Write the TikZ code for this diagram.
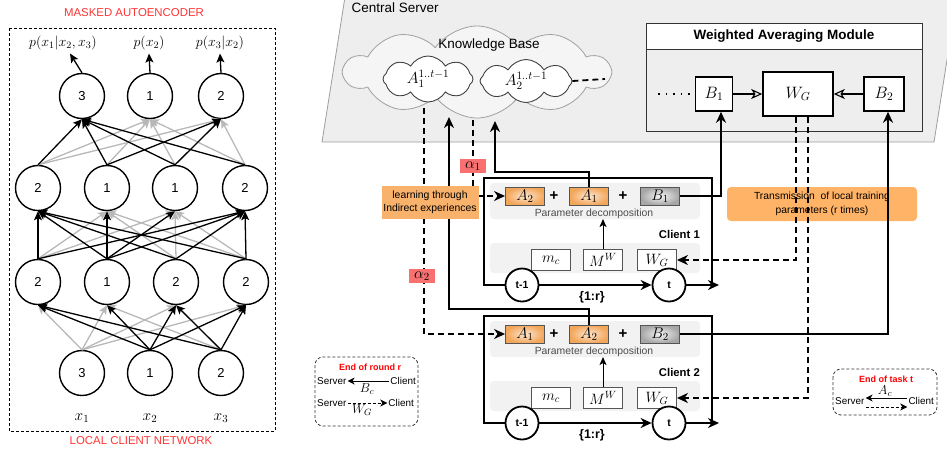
\RequirePackage{fix-cm}
\documentclass[tikz,border=0pt]{standalone}
\usepackage{fontspec}
\setmainfont{Liberation Sans}
\usetikzlibrary{arrows.meta,shapes.symbols,positioning}

\newcommand{\fsz}[1]{\fontsize{#1}{#1}\selectfont}

\definecolor{panelgray}{HTML}{EEEEEE}
\definecolor{paneledge}{HTML}{9E9E9E}
\definecolor{cloudfill}{HTML}{F5F5F5}
\definecolor{cloudedge}{HTML}{A0A0A0}
\definecolor{linkgray}{HTML}{B8B8B8}
\definecolor{aorange}{HTML}{F2A65A}
\definecolor{alight}{HTML}{FDE6CF}
\definecolor{bdark}{HTML}{A6A6A6}
\definecolor{blight}{HTML}{F4F4F4}
\definecolor{boxedge}{HTML}{555555}
\definecolor{subfill}{HTML}{F2F2F2}
\definecolor{learnfill}{HTML}{F8B26C}
\definecolor{transfill}{HTML}{FFB366}
\definecolor{alphafill}{HTML}{F87070}
\definecolor{titlered}{HTML}{FF3333}

\tikzset{
  neuron/.style={circle, draw, fill=white, line width=1.4pt, minimum size=45pt, inner sep=0pt, font=\fsz{13}},
  link/.style={line width=1.3pt, -{Stealth[length=9pt, width=8pt, inset=2pt]}},
  masked/.style={link, color=linkgray},
  flow/.style={line width=1.8pt, -{Stealth[length=11pt, width=10pt, inset=3.5pt]}},
  dflow/.style={flow, dash pattern=on 6pt off 4pt},
  thinflow/.style={line width=0.9pt, -{Stealth[length=8pt, width=7pt, inset=2pt]}},
  openflow/.style={line width=1.8pt, -{Stealth[open, length=11pt, width=10pt, inset=3pt, line width=1.1pt]}},
  frame/.style={line width=1.8pt},
  tnode/.style={circle, draw, fill=white, line width=1.8pt, minimum size=33pt, inner sep=0pt, font=\bfseries\fsz{10.5}},
  abox/.style={draw=boxedge, line width=0.9pt, inner color=alight, outer color=aorange, minimum width=39pt, minimum height=18pt, inner sep=0pt, font=\fsz{15.5}},
  bbox/.style={abox, inner color=blight, outer color=bdark},
  lbox/.style={draw=boxedge, line width=0.9pt, fill=white, minimum width=39pt, minimum height=21pt, inner sep=0pt, font=\fsz{15}},
  sbox/.style={draw, line width=1.6pt, fill=white, inner sep=0pt, font=\fsz{16.5}},
  plus/.style={font=\bfseries\fsz{15}, inner sep=0pt},
  subpanel/.style={fill=subfill, rounded corners=4pt},
  pdtext/.style={font=\fsz{10.4}, text=black!70, inner sep=0pt},
  smallcloud/.style={cloud, cloud puffs=8, cloud puff arc=120, cloud ignores aspect, draw=black!75, fill=white, line width=0.9pt, inner sep=0pt, font=\fsz{16}},
  alphabox/.style={fill=alphafill, minimum width=26pt, minimum height=14pt, inner sep=0.5pt, font=\fsz{15.5}},
  learnbox/.style={fill=learnfill, minimum width=97pt, minimum height=33pt, inner sep=1pt, align=center, font=\fontsize{10.4}{13}\selectfont},
  transbox/.style={fill=transfill, rounded corners=4pt, minimum width=190pt, minimum height=34pt, inner sep=1pt, align=center, font=\fontsize{10.3}{14}\selectfont},
  legbox/.style={draw=black!80, line width=0.8pt, dash pattern=on 3pt off 2pt, rounded corners=8pt},
  legtitle/.style={font=\bfseries\fsz{9}, text=red, inner sep=1pt},
  legtext/.style={font=\fsz{9.9}, inner sep=1pt},
  legarrow/.style={line width=0.9pt, -{Stealth[length=7pt, width=7pt, inset=2pt]}}
}

\begin{document}
\begin{tikzpicture}[x=1pt, y=-1pt]
\useasboundingbox (0,0) rectangle (947,448);

% Masked autoencoder of one client
\node[font=\fsz{11.4}, text=titlered] (maetitle) at (134,13) {MASKED AUTOENCODER};
\draw[line width=0.8pt, dash pattern=on 3pt off 2pt] (9,28) rectangle (275,431);
\node[font=\fsz{11.4}, text=titlered] (lcntitle) at (141,441) {LOCAL CLIENT NETWORK};

\foreach \x/\lab [count=\i] in {82/3,150/1,221/2}
  \node[neuron] (out\i) at (\x,96) {\lab};
\foreach \x/\lab [count=\i] in {38/2,107/1,175/1,245/2}
  \node[neuron] (hb\i) at (\x,188) {\lab};
\foreach \x/\lab [count=\i] in {38/2,107/1,176/2,246/2}
  \node[neuron] (ha\i) at (\x,282) {\lab};
\foreach \x/\lab [count=\i] in {82/3,150/1,221/2}
  \node[neuron] (in\i) at (\x,373) {\lab};

\node[font=\fsz{14}] (p1) at (63,43) {$p(x_1|x_2,x_3)$};
\node[font=\fsz{14}] (p2) at (149,43) {$p(x_2)$};
\node[font=\fsz{14}] (p3) at (220,43) {$p(x_3|x_2)$};
\draw[link] (out1.north) -- ([xshift=7pt]p1.south);
\draw[link] (out2.north) -- (p2.south);
\draw[link] (out3.north) -- (p3.south);
\foreach \i in {1,2,3}
  \node[font=\fsz{15.5}, below=14pt of in\i] (xl\i) {$x_\i$};

% masked links (gray) first
\foreach \j/\lsrc in {1/3,2/1,3/2}
  \foreach \i/\ldst in {1/2,2/1,3/2,4/2}
    {\ifnum\lsrc>\ldst\relax \draw[masked] (in\j.north) -- (ha\i.south);\fi}
\foreach \j/\lsrc in {1/2,2/1,3/2,4/2}
  \foreach \i/\ldst in {1/2,2/1,3/1,4/2}
    {\ifnum\lsrc>\ldst\relax \draw[masked] (ha\j.north) -- (hb\i.south);\fi}
\foreach \j/\lsrc in {1/2,2/1,3/1,4/2}
  \foreach \i/\ldst in {1/3,2/1,3/2}
    {\ifnum\lsrc<\ldst\relax\else \draw[masked] (hb\j.north) -- (out\i.south);\fi}
% allowed links (black)
\foreach \j/\lsrc in {1/3,2/1,3/2}
  \foreach \i/\ldst in {1/2,2/1,3/2,4/2}
    {\ifnum\lsrc>\ldst\relax\else \draw[link] (in\j.north) -- (ha\i.south);\fi}
\foreach \j/\lsrc in {1/2,2/1,3/2,4/2}
  \foreach \i/\ldst in {1/2,2/1,3/1,4/2}
    {\ifnum\lsrc>\ldst\relax\else \draw[link] (ha\j.north) -- (hb\i.south);\fi}
\foreach \j/\lsrc in {1/2,2/1,3/1,4/2}
  \foreach \i/\ldst in {1/3,2/1,3/2}
    {\ifnum\lsrc<\ldst\relax \draw[link] (hb\j.north) -- (out\i.south);\fi}

% Central server
\draw[fill=panelgray, draw=paneledge, line width=0.8pt] (345,-3) -- (957,-3) -- (934,142) -- (322,142) -- cycle;
\node[font=\fsz{13.5}, anchor=west] (cs) at (348,8) {Central Server};
\node[cloud, cloud puffs=10, cloud puff arc=110, cloud ignores aspect, draw=cloudedge, fill=cloudfill, line width=0.8pt,
  minimum width=265pt, minimum height=92pt, inner sep=0pt] (kb) at (477,72) {};
\node[font=\fsz{13.5}] (kbt) at (489,45) {Knowledge Base};
\node[smallcloud, minimum width=90pt, minimum height=46pt] (ka1) at (428,79) {$A_1^{1..t-1}$};
\node[smallcloud, minimum width=92pt, minimum height=43pt] (ka2) at (526,81) {$A_2^{1..t-1}$};
\coordinate (kdots) at (605,79);
\draw[line width=1.8pt, dash pattern=on 6pt off 4pt] (ka2.east) -- (kdots);

% Weighted averaging module
\draw[draw=black!80, line width=1pt, fill=panelgray] (646,23) rectangle (922,131);
\draw[draw=black!80, line width=1pt, fill=white] (646,23) rectangle (922,49);
\node[font=\bfseries\fsz{13.5}] (wamt) at (784,36) {Weighted Averaging Module};
\node[sbox, minimum width=37pt, minimum height=34pt] (sb1) at (714,94) {$B_1$};
\node[sbox, minimum width=70pt, minimum height=44pt] (wg) at (798,94) {$W_G$};
\node[sbox, minimum width=40pt, minimum height=34pt] (sb2) at (884,94) {$B_2$};
\draw[line width=1.5pt, dash pattern=on 1.5pt off 6pt] (658,94) -- (690,94);
\draw[openflow] (sb1) -- (wg);
\draw[openflow] (sb2) -- (wg);

\node[transbox] (trans) at (822,204) {Transmission~ of local training\\parameters (r times)};

% Clients
\foreach \cl/\dy/\oth/\own in {1/0/2/1, 2/138/1/2} {
  \fill[subpanel] (490,{183+\dy}) rectangle (700,{219+\dy});
  \fill[subpanel] (490,{243+\dy}) rectangle (700,{273+\dy});
  \node[pdtext] (c\cl pd) at (594,{214+\dy}) {Parameter decomposition};
  \node[abox] (c\cl oth) at (525,{196+\dy}) {$A_{\oth}$};
  \node[plus] (c\cl pa) at (554,{196+\dy}) {+};
  \node[abox] (c\cl own) at (589,{196+\dy}) {$A_{\own}$};
  \node[plus] (c\cl pb) at (623,{196+\dy}) {+};
  \node[bbox] (c\cl b) at (660,{196+\dy}) {$B_{\cl}$};
  \node[lbox] (c\cl m) at (551,{260+\dy}) {$m_c$};
  \node[lbox] (c\cl mw) at (603,{260+\dy}) {$M^W$};
  \node[lbox] (c\cl w) at (657,{260+\dy}) {$W_G$};
  \draw[thinflow] (c\cl mw.north) -- (c\cl mw.north |- c\cl pd.south);
  \node[font=\bfseries\fsz{11.3}, anchor=east, inner sep=0pt] (c\cl lab) at (700,{234+\dy}) {Client \cl};
  \node[tnode] (c\cl prev) at (522,{285+\dy}) {t-1};
  \node[tnode] (c\cl now) at (669,{285+\dy}) {t};
  \coordinate (c\cl end) at (719,{285+\dy});
  \draw[frame] (c\cl prev) -- (484,{285+\dy}) -- (484,{178+\dy}) -- (712,{178+\dy}) -- (712,{285+\dy});
  \draw[flow] (c\cl prev) -- (c\cl now);
  \draw[flow] (c\cl now) -- (c\cl end);
  \node[font=\bfseries\fsz{12.5}] (c\cl rounds) at (592,{297+\dy}) {\{1:r\}};
}

% client to knowledge base
\coordinate (kbup1) at (495,121);
\coordinate (turn1) at (495,172);
\draw[flow] (c1own.north) |- (turn1) -- (kbup1);
\coordinate (kbup2) at (449,117);
\coordinate (turn2) at (449,309);
\draw[flow] (c2own.north) |- (turn2) -- (kbup2);
% knowledge base to client
\coordinate (kbdn1) at (473,120);
\draw[dflow] (kbdn1) |- (c1oth.west);
\coordinate (kbdn2) at (424,108);
\draw[dflow] (kbdn2) |- (c2oth.west);
\node[alphabox] (alpha1) at (473,166) {$\alpha_1$};
\node[alphabox] (alpha2) at (422,276) {$\alpha_2$};
\node[learnbox] (learn) at (430,202) {learning through\\Indirect experiences};

% client to averaging module and back
\draw[flow] (c1b.east) -| ([xshift=7pt]sb1.south);
\draw[flow] (c2b.east) -| ([xshift=4pt]sb2.south);
\draw[dflow] ([xshift=-2pt]wg.south) |- (c1w.east);
\draw[dflow] ([xshift=10pt]wg.south) |- (c2w.east);

% legends
\draw[legbox] (315,357) rectangle (418,426);
\node[legtitle] (lrt) at (370,367) {End of round r};
\node[legtext, anchor=west] (ls1) at (316,381) {Server};
\node[legtext, anchor=east] (lc1) at (417,381) {Client};
\draw[legarrow] (lc1) -- (ls1);
\node[font=\fsz{13}, inner sep=0pt] (lbc) at (367,389) {$B_c$};
\node[legtext, anchor=west] (ls2) at (316,403) {Server};
\node[legtext, anchor=east] (lc2) at (415,403) {Client};
\draw[legarrow, dash pattern=on 3pt off 2pt] (ls2) -- (lc2);
\node[font=\fsz{13}, inner sep=0pt] (lwg) at (362,410) {$W_G$};

\draw[legbox] (833,369) rectangle (937,415);
\node[legtitle] (ltt) at (886,379) {End of task t};
\node[legtext, anchor=west] (ls3) at (834,401) {Server};
\node[legtext, anchor=east] (lc3) at (935,401) {Client};
\draw[legarrow] ([yshift=3pt]lc3.west) -- ([yshift=3pt]ls3.east);
\draw[legarrow, dash pattern=on 3pt off 2pt] ([yshift=-6pt]ls3.east) -- ([yshift=-6pt]lc3.west);
\node[font=\fsz{13}, inner sep=0pt] (lac) at (885,391) {$A_c$};
\end{tikzpicture}
\end{document}
